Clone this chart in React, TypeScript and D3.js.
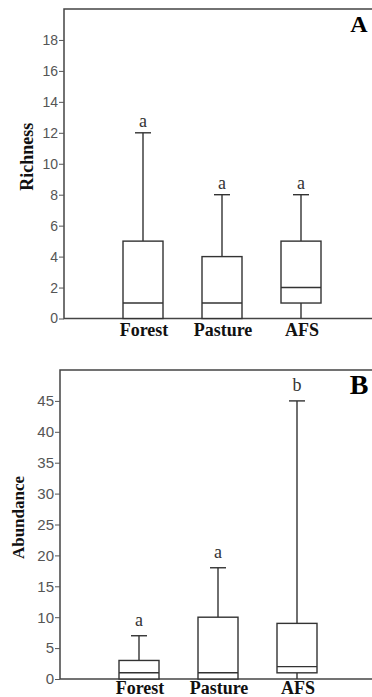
import { useEffect, useRef } from "react";
import * as d3 from "d3";

const categories = ["Forest", "Pasture", "AFS"];

// panel A: richness
const richMin = [0, 0, 0];
const richQ1 = [0, 0, 1];
const richMedian = [1, 1, 2];
const richQ3 = [5, 4, 5];
const richMax = [12, 8, 8];
const richLetters = ["a", "a", "a"];
const richTicks = [0, 2, 4, 6, 8, 10, 12, 14, 16, 18];

// panel B: abundance
const abunMin = [0, 0, 0];
const abunQ1 = [0, 0, 1];
const abunMedian = [1, 1, 2];
const abunQ3 = [3, 10, 9];
const abunMax = [7, 18, 45];
const abunLetters = ["a", "a", "b"];
const abunTicks = [0, 5, 10, 15, 20, 25, 30, 35, 40, 45];

type Panel = {
  tag: string;
  title: string;
  yMax: number;
  ticks: number[];
  min: number[];
  q1: number[];
  med: number[];
  q3: number[];
  max: number[];
  letters: string[];
  left: number;
  top: number;
  bottom: number;
  tickFont: number;
  tagFont: number;
  letterGap: number;
  titleX: number;
  titleFont: number;
  labelGap: number;
};

const LINE = "#333";
const SERIF = "Liberation Serif, Times New Roman, serif";

export default function App() {
  const ref = useRef<SVGSVGElement>(null);

  useEffect(() => {
    document.body.style.margin = "0";
    if (!ref.current) return;
    const svg = d3.select(ref.current);
    svg.selectAll("*").remove();

    const panels: Panel[] = [
      {
        tag: "A", title: "Richness", yMax: 20, ticks: richTicks,
        min: richMin, q1: richQ1, med: richMedian, q3: richQ3, max: richMax, letters: richLetters,
        left: 64, top: 9, bottom: 318.5, tickFont: 14, tagFont: 24, letterGap: 6,
        titleX: 33, titleFont: 18, labelGap: 17.5,
      },
      {
        tag: "B", title: "Abundance", yMax: 50, ticks: abunTicks,
        min: abunMin, q1: abunQ1, med: abunMedian, q3: abunQ3, max: abunMax, letters: abunLetters,
        left: 60, top: 370, bottom: 679, tickFont: 15, tagFont: 28, letterGap: 10,
        titleX: 23.5, titleFont: 17, labelGap: 15,
      },
    ];

    panels.forEach((p) => {
      const g = svg.append("g");
      const x = d3.scaleLinear().domain([0, 4]).range([p.left, p.left + 316]);
      const y = d3.scaleLinear().domain([0, p.yMax]).range([p.bottom, p.top]);
      const bw = 40;
      const cap = 16;

      // frame (right side falls outside the view)
      g.append("rect")
        .attr("x", x(0)).attr("y", y(p.yMax))
        .attr("width", x(4) - x(0)).attr("height", y(0) - y(p.yMax))
        .attr("fill", "none").attr("stroke", "#444").attr("stroke-width", 1.5);

      g.append("g")
        .attr("transform", `translate(${x(0)},0)`)
        .call(d3.axisLeft(y).tickValues(p.ticks).tickSize(5).tickPadding(1).tickFormat(d3.format("d")))
        .call((a) => a.select(".domain").remove())
        .call((a) => a.selectAll("line").attr("stroke", "#555").attr("stroke-width", 1))
        .call((a) => a.selectAll("text")
          .attr("font-family", "Liberation Sans, Arial, sans-serif")
          .attr("font-size", p.tickFont).attr("fill", "#555"));

      categories.forEach((c, i) => {
        const cx = x(i + 1);
        // whiskers
        g.append("line").attr("x1", cx).attr("x2", cx)
          .attr("y1", y(p.q3[i])).attr("y2", y(p.max[i]))
          .attr("stroke", LINE).attr("stroke-width", 1.4);
        g.append("line").attr("x1", cx - cap / 2).attr("x2", cx + cap / 2)
          .attr("y1", y(p.max[i])).attr("y2", y(p.max[i]))
          .attr("stroke", LINE).attr("stroke-width", 1.4);
        if (p.q1[i] > p.min[i]) {
          g.append("line").attr("x1", cx).attr("x2", cx)
            .attr("y1", y(p.q1[i])).attr("y2", y(p.min[i]))
            .attr("stroke", LINE).attr("stroke-width", 1.4);
        }
        // box
        g.append("rect")
          .attr("x", cx - bw / 2).attr("y", y(p.q3[i]))
          .attr("width", bw).attr("height", y(p.q1[i]) - y(p.q3[i]))
          .attr("fill", "white").attr("stroke", LINE).attr("stroke-width", 1.4);
        g.append("line").attr("x1", cx - bw / 2).attr("x2", cx + bw / 2)
          .attr("y1", y(p.med[i])).attr("y2", y(p.med[i]))
          .attr("stroke", LINE).attr("stroke-width", 1.4);
        // significance letter
        g.append("text")
          .attr("x", cx).attr("y", y(p.max[i]) - p.letterGap)
          .attr("text-anchor", "middle")
          .attr("font-family", SERIF)
          .attr("font-size", 18).attr("fill", "#333")
          .text(p.letters[i]);
        // category label
        g.append("text")
          .attr("x", cx + 1).attr("y", y(0) + p.labelGap)
          .attr("text-anchor", "middle")
          .attr("font-family", SERIF)
          .attr("font-weight", "bold").attr("font-size", 18).attr("fill", "#111")
          .text(c);
      });

      // y title
      g.append("text")
        .attr("transform", `translate(${p.titleX},${(p.top + p.bottom) / 2 - 7}) rotate(-90)`)
        .attr("text-anchor", "middle")
        .attr("font-family", SERIF)
        .attr("font-weight", "bold").attr("font-size", p.titleFont).attr("fill", "#111")
        .text(p.title);

      // panel tag
      g.append("text")
        .attr("x", 359).attr("y", p.top + (p.tag === "A" ? 23 : 24))
        .attr("text-anchor", "middle")
        .attr("font-family", SERIF)
        .attr("font-weight", "bold").attr("font-size", p.tagFont).attr("fill", "#000")
        .text(p.tag);
    });
  }, []);

  return <svg ref={ref} width={372} height={697} style={{ display: "block", background: "white" }} />;
}
